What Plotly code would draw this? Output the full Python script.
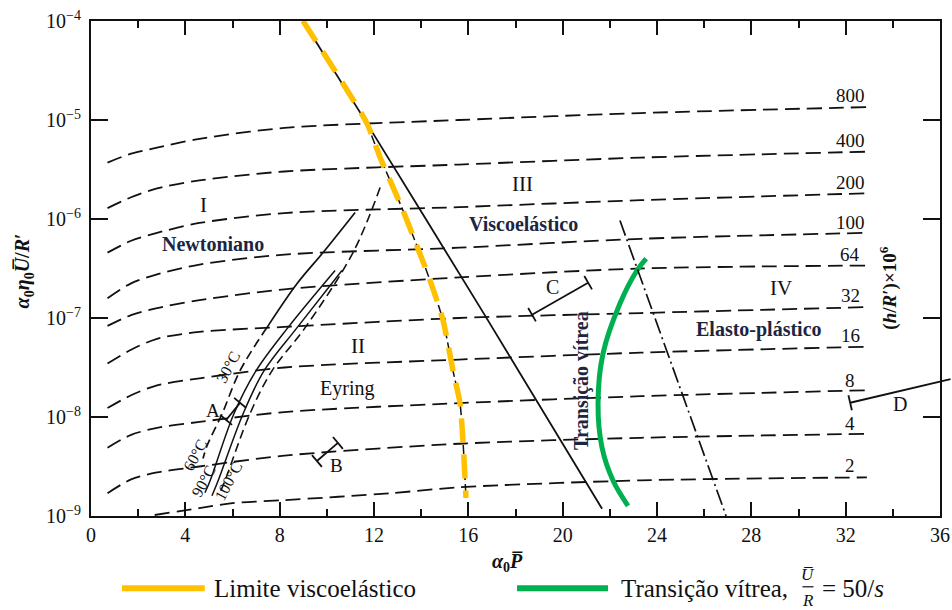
import plotly.graph_objects as go

SERIF = "Liberation Serif"
NAVY = "#1c2541"
YELLOW = "#FFC000"
GREEN = "#00B050"

# ---- (h/R') x 1e6 curves: x = alpha0*P, values given as log10(alpha0*eta0*U/R') ----
x_h = [0.7, 1.7, 2.8, 4.6, 8.2, 15.6, 23.3, 32.9]
logy_800 = [-5.43, -5.34, -5.28, -5.19, -5.08, -5.00, -4.93, -4.87]
logy_400 = [-5.89, -5.78, -5.69, -5.61, -5.52, -5.45, -5.38, -5.32]
logy_200 = [-6.34, -6.22, -6.14, -6.04, -5.94, -5.88, -5.81, -5.74]
logy_100 = [-6.80, -6.65, -6.56, -6.46, -6.36, -6.29, -6.20, -6.14]
logy_64 = [-7.08, -6.97, -6.90, -6.82, -6.71, -6.59, -6.50, -6.47]
logy_32 = [-7.46, -7.32, -7.21, -7.14, -7.09, -7.00, -6.95, -6.89]
logy_16 = [-7.91, -7.78, -7.68, -7.61, -7.50, -7.42, -7.35, -7.29]
logy_8 = [-8.31, -8.18, -8.11, -8.05, -7.95, -7.86, -7.79, -7.73]
logy_4 = [-8.77, -8.63, -8.56, -8.50, -8.39, -8.27, -8.21, -8.17]
x_h2 = [2.7, 4.6, 6.0, 8.2, 12.7, 15.6, 23.3, 32.9]
logy_2 = [-8.99, -8.92, -8.87, -8.84, -8.77, -8.71, -8.64, -8.61]

h_labels = ["800", "400", "200", "100", "64", "32", "16", "8", "4", "2"]
label_x = 32.19
label_logy = [-4.752, -5.206, -5.631, -6.036, -6.359, -6.774, -7.178, -7.633, -8.068, -8.492]

# ---- boundaries ----
visco_x = [8.99, 11.7, 16.71, 21.67]
visco_logy = [-4.0, -5.034, -6.976, -8.927]

limit_x = [8.99, 11.70, 12.26, 13.23, 14.38, 14.93, 15.35, 15.65, 15.78, 15.90]
limit_logy = [-4.0, -5.034, -5.378, -5.914, -6.622, -7.026, -7.532, -7.865, -8.27, -8.816]

glass_x = [23.54, 23.15, 22.43, 21.71, 21.50, 21.67, 22.14, 22.77]
glass_logy = [-6.40, -6.52, -6.854, -7.36, -7.866, -8.31, -8.644, -8.897]

ep_x = [22.43, 26.93]
ep_logy = [-6.016, -9.0]

# ---- temperature lines ----
t30_solid_x = [11.2, 9.84, 8.74, 7.46]
t30_solid_logy = [-5.934, -6.339, -6.652, -7.097]
t30_dash_x = [7.46, 6.32, 5.56, 4.92, 4.75]
t30_dash_logy = [-7.097, -7.532, -7.967, -8.29, -8.42]
tb_x = [10.35, 8.35, 7.0, 6.06, 5.05, 4.83]
tb_logy = [-6.52, -7.097, -7.532, -7.967, -8.644, -8.765]
tc_x = [10.64, 8.74, 7.34, 6.45, 5.39, 5.13]
tc_logy = [-6.52, -7.097, -7.532, -7.967, -8.644, -8.795]
td_x = [12.26, 11.11, 9.08, 7.68, 6.74, 5.68, 5.47]
td_logy = [-5.682, -6.339, -7.097, -7.532, -7.967, -8.644, -8.765]

temp_labels = ["30\u00b0C", "60\u00b0C", "90\u00b0C", "100\u00b0C"]
temp_label_x = [5.81, 4.41, 4.79, 5.85]
temp_label_logy = [-7.5, -8.391, -8.644, -8.644]

# ---- data bars A, B, C, D ----
barA_x = [5.73, 6.32]
barA_logy = [-8.03, -7.857]
barB_x = [9.58, 10.47]
barB_logy = [-8.444, -8.262]
barC_x = [18.70, 21.08]
barC_logy = [-6.967, -6.643]
barD_x = [32.19, 36.51]
barD_logy = [-7.856, -7.614]

x_ticks = [0, 4, 8, 12, 16, 20, 24, 28, 32, 36]
y_exps = [-9, -8, -7, -6, -5, -4]

TXT_TRANS = "Transi\u00e7\u00e3o v\u00edtrea"


def pw(v):
    return [10 ** e for e in v]


fig = go.Figure()

curves = [(x_h, logy_800), (x_h, logy_400), (x_h, logy_200), (x_h, logy_100),
          (x_h, logy_64), (x_h, logy_32), (x_h, logy_16), (x_h, logy_8),
          (x_h, logy_4), (x_h2, logy_2)]
for cx, cy in curves:
    fig.add_trace(go.Scatter(x=cx, y=pw(cy), mode="lines",
                             line=dict(color="#111", width=1.8, dash="15px,7px",
                                       shape="spline", smoothing=0.8),
                             hoverinfo="skip"))

# viscoelastic boundary (solid black)
fig.add_trace(go.Scatter(x=visco_x, y=pw(visco_logy), mode="lines",
                         line=dict(color="#111", width=1.8, shape="spline", smoothing=0.5)))
# original thin dashed line under the yellow limit
fig.add_trace(go.Scatter(x=limit_x[1:], y=pw(limit_logy[1:]), mode="lines",
                         line=dict(color="#111", width=1.5, dash="9px,4px",
                                   shape="spline", smoothing=0.6)))
# yellow viscoelastic limit
fig.add_trace(go.Scatter(x=limit_x, y=pw(limit_logy), mode="lines",
                         line=dict(color=YELLOW, width=5.5, dash="24px,12px",
                                   shape="spline", smoothing=0.6)))
# green glass transition
fig.add_trace(go.Scatter(x=glass_x, y=pw(glass_logy), mode="lines",
                         line=dict(color=GREEN, width=5, shape="spline", smoothing=1.0)))
# elasto-plastic boundary (dash-dot)
fig.add_trace(go.Scatter(x=ep_x, y=pw(ep_logy), mode="lines",
                         line=dict(color="#111", width=1.7, dash="16px,4px,2px,4px")))

# temperature lines
fig.add_trace(go.Scatter(x=t30_solid_x, y=pw(t30_solid_logy), mode="lines",
                         line=dict(color="#111", width=1.7, shape="spline")))
fig.add_trace(go.Scatter(x=t30_dash_x, y=pw(t30_dash_logy), mode="lines",
                         line=dict(color="#111", width=1.7, dash="9px,5px", shape="spline")))
fig.add_trace(go.Scatter(x=tb_x, y=pw(tb_logy), mode="lines",
                         line=dict(color="#111", width=1.5, shape="spline")))
fig.add_trace(go.Scatter(x=tc_x, y=pw(tc_logy), mode="lines",
                         line=dict(color="#111", width=1.5, shape="spline")))
fig.add_trace(go.Scatter(x=td_x, y=pw(td_logy), mode="lines",
                         line=dict(color="#111", width=1.6, dash="9px,5px", shape="spline")))

# bars with end caps
for bx, by, ang in [(barA_x, barA_logy, -50), (barB_x, barB_logy, -40),
                    (barC_x, barC_logy, -30)]:
    fig.add_trace(go.Scatter(x=bx, y=pw(by), mode="lines+markers",
                             line=dict(color="#111", width=1.8),
                             marker=dict(symbol="line-ns", size=11, angle=ang,
                                         line=dict(color="#111", width=1.8))))
fig.add_trace(go.Scatter(x=barD_x[:1], y=pw(barD_logy[:1]), mode="markers",
                         marker=dict(symbol="line-ns", size=11, angle=-13,
                                     line=dict(color="#111", width=1.8))))

ann = []
# D line extends beyond the frame
ann.append(dict(x=barD_x[0], y=barD_logy[0], xref="x", yref="y",
                ax=barD_x[1], ay=barD_logy[1], axref="x", ayref="y",
                showarrow=True, arrowhead=0, arrowwidth=2, arrowcolor="#111",
                text="", standoff=0, startstandoff=0))

for lab, ly in zip(h_labels, label_logy):
    ann.append(dict(x=label_x, y=ly, xref="x", yref="y", text=lab, showarrow=False,
                    xanchor="center", yanchor="middle",
                    font=dict(family=SERIF, size=19, color="#111")))


def txt(x, ly, s, size=20, color="#111", angle=0, bold=False):
    if bold:
        s = "<b>" + s + "</b>"
    ann.append(dict(x=x, y=ly, xref="x", yref="y", text=s, showarrow=False,
                    xanchor="center", yanchor="middle",
                    textangle=angle, font=dict(family=SERIF, size=size, color=color)))


def ptxt(x, y, s, size, angle=0, xanchor="center"):
    ann.append(dict(x=x, y=y, xref="paper", yref="paper", text=s, showarrow=False,
                    xanchor=xanchor, yanchor="middle", textangle=angle,
                    font=dict(family=SERIF, size=size, color="#111")))


txt(4.75, -5.863, "I", size=21)
txt(5.17, -6.25, "Newtoniano", color=NAVY, bold=True)
txt(11.32, -7.279, "II", size=21)
txt(10.86, -7.712, "Eyring")
txt(18.28, -5.643, "III", size=21)
txt(18.32, -6.047, "Viscoel\u00e1stico", color=NAVY, bold=True)
txt(29.26, -6.695, "IV", size=21)
txt(28.33, -7.117, "Elasto-pl\u00e1stico", color=NAVY, bold=True)
txt(20.82, -7.636, TXT_TRANS, size=20, color=NAVY, angle=-90, bold=True)
txt(19.55, -6.69, "C")
txt(34.3, -7.866, "D")
txt(5.17, -7.937, "A", size=19)
txt(10.43, -8.49, "B", size=19)
for tl, tx, ty in zip(temp_labels, temp_label_x, temp_label_logy):
    txt(tx, ty, tl, size=16, angle=-62)
txt(33.84, -6.703, "(<i>h</i>/<i>R</i>\u2032)\u00d710<sup>6</sup>", size=19, angle=-90, bold=True)

# axis titles
ptxt(-0.079, 0.496,
     "<b><i>\u03b1</i><sub>0</sub><i>\u03b7</i><sub>0</sub><i>U\u0305</i>/<i>R</i>\u2032</b>",
     20, angle=-90)
ptxt(0.491, -0.094, "<b><i>\u03b1</i><sub>0</sub><i>P\u0305</i></b>", 20)

# legend
LY = -0.146
ptxt(0.1425, LY, "Limite viscoel\u00e1stico", 25, xanchor="left")
ptxt(0.622, LY, TXT_TRANS + ",", 25, xanchor="left")
ptxt(0.8445, -0.1176, "<i>U\u0305</i>", 17)
ptxt(0.8445, -0.1700, "<i>R</i>", 17)
ptxt(0.859, LY, "= 50/<i>s</i>", 25, xanchor="left")

shapes = [
    dict(type="line", xref="paper", yref="paper", x0=0.0365, x1=0.134, y0=LY, y1=LY,
         line=dict(color=YELLOW, width=6)),
    dict(type="line", xref="paper", yref="paper", x0=0.5018, x1=0.609, y0=LY, y1=LY,
         line=dict(color=GREEN, width=6)),
    dict(type="line", xref="paper", yref="paper", x0=0.8380, x1=0.8510, y0=-0.1430, y1=-0.1430,
         line=dict(color="#111", width=1.2)),
]

fig.update_layout(
    width=952, height=610,
    margin=dict(l=91, r=12, t=21, b=94, autoexpand=False),
    plot_bgcolor="white", paper_bgcolor="white",
    showlegend=False,
    annotations=ann, shapes=shapes,
    xaxis=dict(range=[0, 36], tickvals=x_ticks, ticktext=[str(v) for v in x_ticks],
               automargin=False,
               ticks="inside", ticklen=14, tickwidth=1.5, tickcolor="#111",
               showline=True, linewidth=2, linecolor="#111", mirror="ticks",
               showgrid=False, zeroline=False,
               minor=dict(dtick=2, tick0=0, ticks="inside", ticklen=7, tickwidth=1.5,
                          tickcolor="#111", showgrid=False),
               tickfont=dict(family=SERIF, size=20, color="#111")),
    yaxis=dict(type="log", range=[-9, -4], tickvals=[10 ** e for e in y_exps],
               ticktext=["10<sup>\u2212%d</sup>" % (-e) for e in y_exps],
               automargin=False,
               ticks="inside", ticklen=17, tickwidth=1.5, tickcolor="#111",
               showline=True, linewidth=2, linecolor="#111", mirror="ticks",
               showgrid=False, zeroline=False, ticklabelstandoff=4,
               tickfont=dict(family=SERIF, size=20, color="#111")),
)

fig.write_html("out.html", config={"displayModeBar": False},
               post_script="document.body.style.margin='0px';document.body.style.overflow='hidden';")
